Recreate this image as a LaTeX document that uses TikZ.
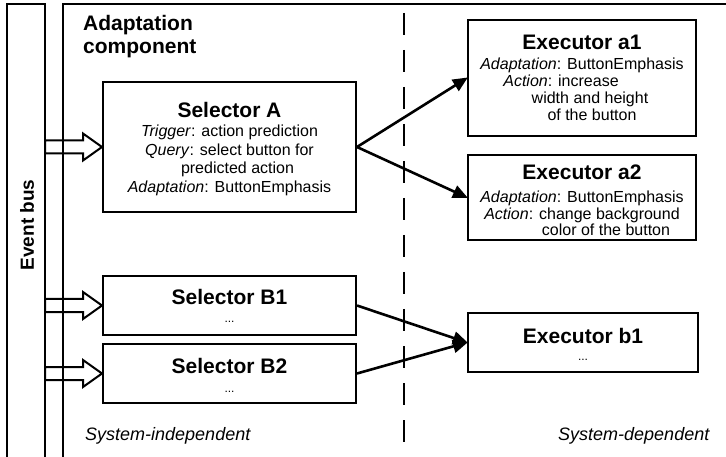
\documentclass[tikz,border=0pt]{standalone}
\usepackage{fontspec}
\setmainfont{Liberation Sans}
\usetikzlibrary{arrows.meta}

\tikzset{
  frame/.style={line width=2pt, line cap=rect},
  box/.style={draw, line width=2pt, rectangle, inner sep=0pt},
  ttl/.style={font=\fontsize{21}{24}\selectfont\bfseries, anchor=base, inner sep=0pt},
  txt/.style={font=\fontsize{16}{18}\selectfont, anchor=base, inner sep=0pt},
  dots/.style={font=\fontsize{12}{14}\selectfont, anchor=base, inner sep=0pt},
  side/.style={font=\fontsize{18}{20}\selectfont\itshape, anchor=base west, inner sep=0pt},
  conn/.style={line width=2.6pt, -{Triangle[length=15pt,width=13pt]}, shorten >=-1pt},
  hollow/.style={line width=2pt, line join=miter},
}

% open block arrow from the event bus into a selector
\newcommand\busarrow[1]{%
  \draw[hollow] (#1.west) -- ++(-19,13.5) -- ++(0,-7) -- ++(-38,0)
    -- ++(0,-13) -- ++(38,0) -- ++(0,-7) -- cycle;}

% box of given corners (pixel units, y downwards)
\newcommand\boxat[5]{%
  \node[box, minimum width={#4-#2}, minimum height={#5-#3}] (#1)
    at ({(#2+#4)/2},{(#3+#5)/2}) {};}

\begin{document}
\begin{tikzpicture}[x=1pt, y=-1pt]
  \useasboundingbox (0,0) rectangle (726,457);

  % event bus and adaptation component frames (open at the bottom)
  \draw[frame] (7,470) -- (7,4) -- (45,4) -- (45,470);
  \draw[frame] (63,470) -- (63,4) -- (740,4);
  \node[font=\fontsize{19}{21}\selectfont\bfseries, rotate=90, inner sep=0pt] (bus) at (27,225) {Event bus};

  \node[ttl, anchor=base west] (compA) at (83,31) {Adaptation};
  \node[ttl, anchor=base west] (compB) at (83,54) {component};

  % boundary between system-independent and system-dependent parts
  \draw[line width=2pt, dash pattern=on 22pt off 15pt] (404,13) -- (404,470);

  % selectors
  \boxat{selA}{103}{82}{356}{212}
  \boxat{selB1}{103}{276}{356}{335}
  \boxat{selB2}{103}{344}{356}{403}

  % executors
  \boxat{exA1}{468}{20}{696}{136}
  \boxat{exA2}{468}{155}{696}{240}
  \boxat{exB1}{468}{313}{698}{372}

  % selector texts
  \node[ttl] (selAt) at (229.5,118) {Selector A};
  \node[txt] (selA1) at (229.5,137) {\textit{Trigger}: action prediction};
  \node[txt] (selA2) at (229.5,156) {\textit{Query}: select button for};
  \node[txt] (selA3) at (237.5,174) {predicted action};
  \node[txt] (selA4) at (229.5,193) {\textit{Adaptation}: ButtonEmphasis};

  \node[ttl] (selB1t) at (229.5,305) {Selector B1};
  \node[dots] (selB1d) at (229.5,323) {...};
  \node[ttl] (selB2t) at (229.5,373) {Selector B2};
  \node[dots] (selB2d) at (229.5,392) {...};

  % executor texts
  \node[ttl] (exA1t) at (582,50) {Executor a1};
  \node[txt] (exA11) at (582,70) {\textit{Adaptation}: ButtonEmphasis};
  \node[txt] (exA12) at (561,87) {\textit{Action}: increase};
  \node[txt] (exA13) at (590,104) {width and height};
  \node[txt] (exA14) at (592,121) {of the button};

  \node[ttl] (exA2t) at (582,180) {Executor a2};
  \node[txt] (exA21) at (582,203) {\textit{Adaptation}: ButtonEmphasis};
  \node[txt] (exA22) at (582,220) {\textit{Action}: change background};
  \node[txt] (exA23) at (606,236) {color of the button};

  \node[ttl] (exB1t) at (583,343) {Executor b1};
  \node[dots] (exB1d) at (583,360) {...};

  % event bus inputs
  \busarrow{selA}
  \busarrow{selB1}
  \busarrow{selB2}

  % selector to executor connections
  \draw[conn] (selA.east) -- (exA1.west);
  \draw[conn] (selA.east) -- (exA2.west);
  \draw[conn] (selB1.east) -- (exB1.west);
  \draw[conn] (selB2.east) -- (exB1.west);

  % part captions
  \node[side] (indep) at (85,440) {System-independent};
  \node[side] (dep) at (558,440) {System-dependent};
\end{tikzpicture}
\end{document}
